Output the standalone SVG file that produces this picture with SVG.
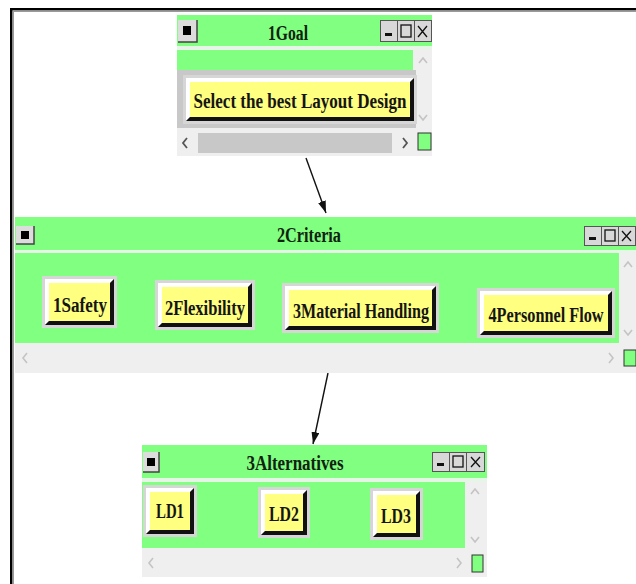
<svg xmlns="http://www.w3.org/2000/svg" width="636" height="584" viewBox="0 0 636 584">
<defs>
<style>
.win{fill:#efefef}
.green{fill:#80ff80}
.sep{fill:#e6f6e6}
.gray{fill:#c8c8c8}
.ttl{font-family:"Liberation Serif","Times New Roman",serif;font-weight:bold;font-size:20px;fill:#102210;text-anchor:middle}
.lbl{font-family:"Liberation Serif","Times New Roman",serif;font-weight:bold;font-size:20px;fill:#151515;text-anchor:middle}
.chev{fill:none;stroke:#c4c4c4;stroke-width:1.6}
.conn{stroke:#111;stroke-width:1.4;fill:none}
.bbg{fill:#d6d6d6}
.hl{fill:#ffffff}
.sh{fill:#111111}
.face{fill:#ffff80}
.cell{fill:#d8d8d8;stroke:#555;stroke-width:1}
</style>
<marker id="ah" viewBox="0 0 12 8" refX="12" refY="4" markerWidth="12" markerHeight="8" markerUnits="userSpaceOnUse" orient="auto">
<path d="M0,0 L12,4 L0,8 Z" fill="#111"/>
</marker>
</defs>
<rect x="0" y="0" width="636" height="584" fill="#ffffff"/>
<rect x="10" y="8" width="626" height="2.5" fill="#000"/>
<rect x="12.5" y="10.5" width="623.5" height="1.5" fill="#9a9a9a"/>
<rect x="10" y="8" width="2.5" height="576" fill="#000"/>
<rect x="12.5" y="10.5" width="1.5" height="573.5" fill="#9a9a9a"/>

<g id="connectors">
<line class="conn" x1="306" y1="158" x2="326" y2="213" marker-end="url(#ah)"/>
<line class="conn" x1="328" y1="373" x2="313" y2="444" marker-end="url(#ah)"/>
</g>

<g id="goal">
<rect class="win" x="177" y="15" width="255" height="141"/>
<rect class="green" x="177" y="15" width="255" height="31"/>
<rect class="sep" x="177" y="46" width="255" height="3"/>
<rect x="178" y="20" width="19" height="22" fill="#dcdcdc"/>
<path d="M178,42 L197,42 L197,20" fill="none" stroke="#444" stroke-width="1.5"/>
<rect x="183" y="26" width="8" height="9" fill="#000"/>
<text class="ttl" x="288" y="40" textLength="40" lengthAdjust="spacingAndGlyphs">1Goal</text>
<rect class="cell" x="380.5" y="20.5" width="17" height="21"/>
<rect class="cell" x="397.5" y="20.5" width="17" height="21"/>
<rect class="cell" x="414.5" y="20.5" width="17" height="21"/>
<rect x="385" y="33" width="7" height="3" fill="#111"/>
<rect x="401" y="25" width="10" height="12" fill="none" stroke="#111" stroke-width="1.3"/>
<path d="M418,26 L427,37 M427,26 L418,37" stroke="#111" stroke-width="1.3"/>
<rect class="green" x="177" y="50" width="236" height="20"/>
<rect class="gray" x="177" y="70" width="239" height="58"/>
<path class="chev" d="M419,63 L423,58 L427,63"/>
<path class="chev" d="M419,115 L423,120 L427,115"/>
<rect class="gray" x="198" y="133" width="194" height="20"/>
<path d="M187,138 L183,143 L187,148" fill="none" stroke="#555" stroke-width="1.8"/>
<path d="M403,138 L407,143 L403,148" fill="none" stroke="#555" stroke-width="1.8"/>
<rect x="418" y="133" width="13" height="17" fill="#80ff80" stroke="#333" stroke-width="1"/>
<g id="n_goal">
<rect class="bbg" x="183" y="75" width="234" height="49"/>
<polygon class="hl" points="186,78 414,78 410,82 190,82 190,117 186,121"/>
<polygon class="sh" points="414,78 414,121 186,121 190,117 410,117 410,82"/>
<rect class="face" x="190" y="82" width="220" height="35"/>
<text class="lbl" x="300" y="108" font-size="21" textLength="213" lengthAdjust="spacingAndGlyphs">Select the best Layout Design</text>
</g>
</g>

<g id="criteria">
<rect class="win" x="15" y="217" width="621" height="156"/>
<rect class="green" x="15" y="217" width="621" height="33"/>
<rect class="sep" x="15" y="250" width="621" height="3"/>
<rect x="16" y="226" width="18" height="18" fill="#dcdcdc"/>
<path d="M16,244 L34,244 L34,226" fill="none" stroke="#444" stroke-width="1.5"/>
<rect x="21" y="231" width="8" height="8" fill="#000"/>
<text class="ttl" x="309" y="242" textLength="64" lengthAdjust="spacingAndGlyphs">2Criteria</text>
<rect class="cell" x="584.5" y="226.5" width="17" height="19"/>
<rect class="cell" x="601.5" y="226.5" width="17" height="19"/>
<rect class="cell" x="618.5" y="226.5" width="17" height="19"/>
<rect x="589" y="237" width="7" height="3" fill="#111"/>
<rect x="605" y="230" width="10" height="11" fill="none" stroke="#111" stroke-width="1.3"/>
<path d="M622,231 L631,241 M631,231 L622,241" stroke="#111" stroke-width="1.3"/>
<rect class="green" x="15" y="253" width="604" height="90"/>
<path class="chev" d="M624,267 L628,262 L632,267"/>
<path class="chev" d="M624,330 L628,335 L632,330"/>
<path class="chev" d="M27,353 L23,358 L27,363"/>
<path class="chev" d="M609,353 L613,358 L609,363"/>
<rect x="624" y="350" width="12" height="16" fill="#80ff80" stroke="#333" stroke-width="1"/>
<g id="n_safety">
<rect class="bbg" x="42" y="276" width="75" height="52"/>
<polygon class="hl" points="45,279 114,279 110,283 49,283 49,321 45,325"/>
<polygon class="sh" points="114,279 114,325 45,325 49,321 110,321 110,283"/>
<rect class="face" x="49" y="283" width="61" height="38"/>
<text class="lbl" x="80" y="312" textLength="54" lengthAdjust="spacingAndGlyphs">1Safety</text>
</g>
<g id="n_flex">
<rect class="bbg" x="155" y="280" width="100" height="50"/>
<polygon class="hl" points="158,283 252,283 248,287 162,287 162,323 158,327"/>
<polygon class="sh" points="252,283 252,327 158,327 162,323 248,323 248,287"/>
<rect class="face" x="162" y="287" width="86" height="36"/>
<text class="lbl" x="205" y="315" textLength="80" lengthAdjust="spacingAndGlyphs">2Flexibility</text>
</g>
<g id="n_material">
<rect class="bbg" x="282" y="283" width="157" height="50"/>
<polygon class="hl" points="285,286 436,286 432,290 289,290 289,326 285,330"/>
<polygon class="sh" points="436,286 436,330 285,330 289,326 432,326 432,290"/>
<rect class="face" x="289" y="290" width="143" height="36"/>
<text class="lbl" x="361" y="318" textLength="136" lengthAdjust="spacingAndGlyphs">3Material Handling</text>
</g>
<g id="n_personnel">
<rect class="bbg" x="477" y="288" width="138" height="50"/>
<polygon class="hl" points="480,291 612,291 608,295 484,295 484,331 480,335"/>
<polygon class="sh" points="612,291 612,335 480,335 484,331 608,331 608,295"/>
<rect class="face" x="484" y="295" width="124" height="36"/>
<text class="lbl" x="546" y="322" textLength="115" lengthAdjust="spacingAndGlyphs">4Personnel Flow</text>
</g>
</g>

<g id="alternatives">
<rect class="win" x="142" y="445" width="345" height="132"/>
<rect class="green" x="142" y="445" width="345" height="33"/>
<rect class="sep" x="142" y="478" width="345" height="4"/>
<rect x="143" y="452" width="16" height="20" fill="#dcdcdc"/>
<path d="M143,472 L159,472 L159,452" fill="none" stroke="#444" stroke-width="1.5"/>
<rect x="147" y="458" width="8" height="8" fill="#000"/>
<text class="ttl" x="295" y="470" textLength="97" lengthAdjust="spacingAndGlyphs">3Alternatives</text>
<rect class="cell" x="432.5" y="452.5" width="17" height="19"/>
<rect class="cell" x="449.5" y="452.5" width="17" height="19"/>
<rect class="cell" x="466.5" y="452.5" width="18" height="19"/>
<rect x="437" y="463" width="7" height="3" fill="#111"/>
<rect x="453" y="456" width="10" height="11" fill="none" stroke="#111" stroke-width="1.3"/>
<path d="M471,457 L480,467 M480,457 L471,467" stroke="#111" stroke-width="1.3"/>
<rect class="green" x="142" y="482" width="323" height="66"/>
<path class="chev" d="M471,494 L475,489 L479,494"/>
<path class="chev" d="M471,537 L475,542 L479,537"/>
<path class="chev" d="M153,558 L149,563 L153,568"/>
<path class="chev" d="M457,558 L461,563 L457,568"/>
<rect x="472" y="555" width="11" height="17" fill="#80ff80" stroke="#333" stroke-width="1"/>
<g id="n_ld1">
<rect class="bbg" x="143" y="485" width="54" height="52"/>
<polygon class="hl" points="146,488 194,488 190,492 150,492 150,530 146,534"/>
<polygon class="sh" points="194,488 194,534 146,534 150,530 190,530 190,492"/>
<rect class="face" x="150" y="492" width="40" height="38"/>
<text class="lbl" x="170" y="518" textLength="28" lengthAdjust="spacingAndGlyphs">LD1</text>
</g>
<g id="n_ld2">
<rect class="bbg" x="258" y="487" width="52" height="51"/>
<polygon class="hl" points="261,490 307,490 303,494 265,494 265,531 261,535"/>
<polygon class="sh" points="307,490 307,535 261,535 265,531 303,531 303,494"/>
<rect class="face" x="265" y="494" width="38" height="37"/>
<text class="lbl" x="284" y="521" textLength="30" lengthAdjust="spacingAndGlyphs">LD2</text>
</g>
<g id="n_ld3">
<rect class="bbg" x="370" y="488" width="53" height="52"/>
<polygon class="hl" points="373,491 420,491 416,495 377,495 377,533 373,537"/>
<polygon class="sh" points="420,491 420,537 373,537 377,533 416,533 416,495"/>
<rect class="face" x="377" y="495" width="39" height="38"/>
<text class="lbl" x="396" y="523" textLength="30" lengthAdjust="spacingAndGlyphs">LD3</text>
</g>
</g>
</svg>
